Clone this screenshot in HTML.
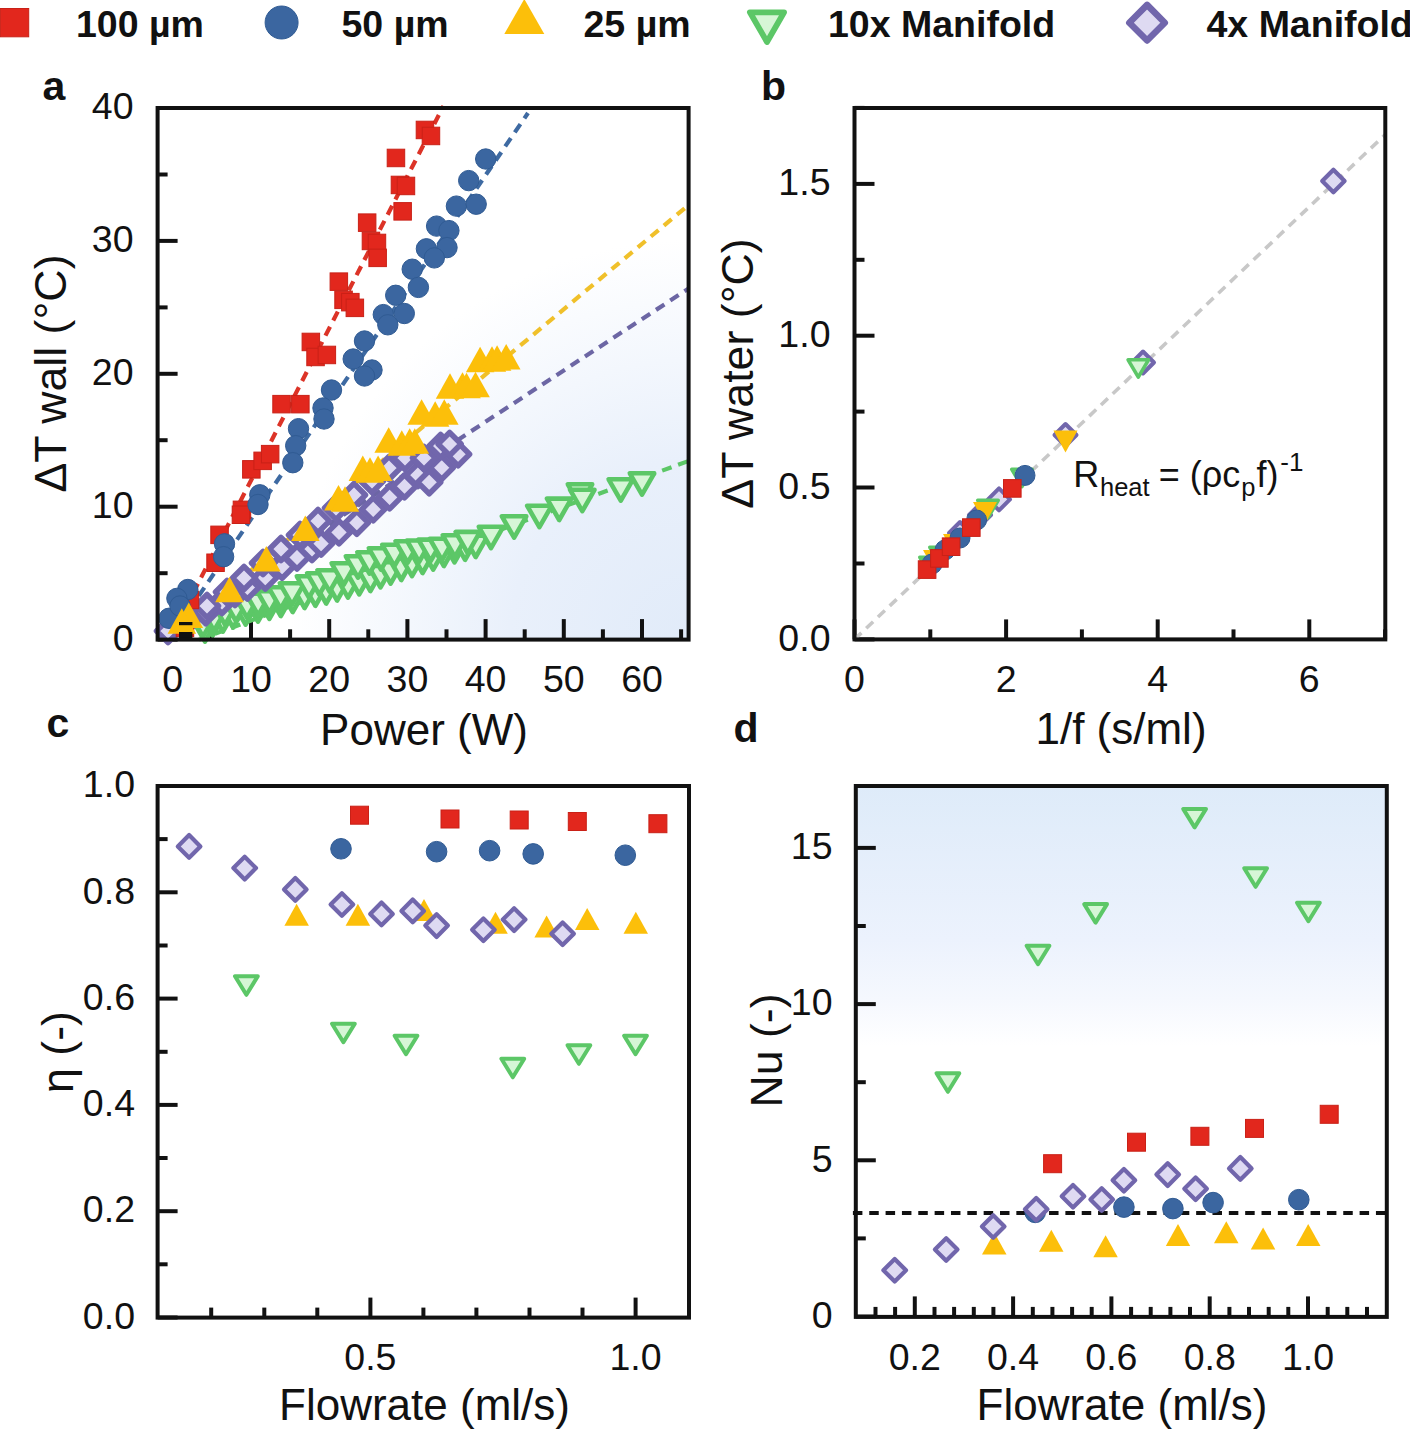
<!DOCTYPE html><html><head><meta charset="utf-8"><title>Figure</title>
<style>html,body{margin:0;padding:0;background:#fff;}svg{display:block;}text{font-family:"Liberation Sans", sans-serif;fill:#111111;}</style></head><body>
<svg width="1410" height="1430" viewBox="0 0 1410 1430">
<defs>
<radialGradient id="ga" gradientUnits="userSpaceOnUse" cx="690" cy="640" r="400"><stop offset="0" stop-color="rgb(225,235,249)"/><stop offset="0.45" stop-color="rgb(233,240,251)"/><stop offset="0.7" stop-color="rgb(243,247,253)"/><stop offset="1" stop-color="#ffffff"/></radialGradient>
<linearGradient id="gd" gradientUnits="userSpaceOnUse" x1="0" y1="786" x2="0" y2="1046"><stop offset="0" stop-color="rgb(222,235,249)"/><stop offset="0.59" stop-color="rgb(236,242,253)"/><stop offset="0.82" stop-color="rgb(245,248,254)"/><stop offset="1" stop-color="#ffffff"/></linearGradient>
</defs>
<rect width="1410" height="1430" fill="#fff"/>
<rect x="0.4" y="8.5" width="28.3" height="28.3" fill="#e2271d" stroke="#c92117" stroke-width="1"/>
<text x="76" y="37.2" font-size="37.5" text-anchor="start" font-weight="bold" >100 µm</text>
<circle cx="281.6" cy="22.5" r="16.5" fill="#3b66a0" stroke="#305b93" stroke-width="1"/>
<text x="341.5" y="37.2" font-size="37.5" text-anchor="start" font-weight="bold" >50 µm</text>
<path d="M524.3 -1L544.3 34L504.3 34Z" fill="#fcbf0a"/>
<text x="583.5" y="37.2" font-size="37.5" text-anchor="start" font-weight="bold" >25 µm</text>
<path d="M749.9 12.3L784.1 12.3L767 42Z" fill="#d6f6d6" stroke="#5cc767" stroke-width="5.8" stroke-linejoin="round"/>
<text x="828" y="37.2" font-size="37.5" text-anchor="start" font-weight="bold" >10x Manifold</text>
<path d="M1147.1 4.9L1164.8 22.7L1147.1 40.5L1129.3 22.7Z" fill="#dedaf2" stroke="#7166ac" stroke-width="6.5" stroke-linejoin="round"/>
<text x="1206.5" y="37.2" font-size="37.5" text-anchor="start" font-weight="bold" >4x Manifold</text>
<rect x="157.6" y="108" width="531" height="531.6" fill="url(#ga)"/>
<line x1="157.6" y1="639.6" x2="177.6" y2="639.6" stroke="#111111" stroke-width="4" />
<line x1="157.6" y1="573.2" x2="167.6" y2="573.2" stroke="#111111" stroke-width="4" />
<line x1="157.6" y1="506.7" x2="177.6" y2="506.7" stroke="#111111" stroke-width="4" />
<line x1="157.6" y1="440.2" x2="167.6" y2="440.2" stroke="#111111" stroke-width="4" />
<line x1="157.6" y1="373.8" x2="177.6" y2="373.8" stroke="#111111" stroke-width="4" />
<line x1="157.6" y1="307.4" x2="167.6" y2="307.4" stroke="#111111" stroke-width="4" />
<line x1="157.6" y1="240.9" x2="177.6" y2="240.9" stroke="#111111" stroke-width="4" />
<line x1="157.6" y1="174.5" x2="167.6" y2="174.5" stroke="#111111" stroke-width="4" />
<line x1="157.6" y1="108" x2="177.6" y2="108" stroke="#111111" stroke-width="4" />
<line x1="172.8" y1="639.6" x2="172.8" y2="619.1" stroke="#111111" stroke-width="4" />
<line x1="211.9" y1="639.6" x2="211.9" y2="629.3" stroke="#111111" stroke-width="4" />
<line x1="251" y1="639.6" x2="251" y2="619.1" stroke="#111111" stroke-width="4" />
<line x1="290.1" y1="639.6" x2="290.1" y2="629.3" stroke="#111111" stroke-width="4" />
<line x1="329.2" y1="639.6" x2="329.2" y2="619.1" stroke="#111111" stroke-width="4" />
<line x1="368.3" y1="639.6" x2="368.3" y2="629.3" stroke="#111111" stroke-width="4" />
<line x1="407.4" y1="639.6" x2="407.4" y2="619.1" stroke="#111111" stroke-width="4" />
<line x1="446.5" y1="639.6" x2="446.5" y2="629.3" stroke="#111111" stroke-width="4" />
<line x1="485.6" y1="639.6" x2="485.6" y2="619.1" stroke="#111111" stroke-width="4" />
<line x1="524.7" y1="639.6" x2="524.7" y2="629.3" stroke="#111111" stroke-width="4" />
<line x1="563.8" y1="639.6" x2="563.8" y2="619.1" stroke="#111111" stroke-width="4" />
<line x1="602.9" y1="639.6" x2="602.9" y2="629.3" stroke="#111111" stroke-width="4" />
<line x1="642" y1="639.6" x2="642" y2="619.1" stroke="#111111" stroke-width="4" />
<line x1="681.1" y1="639.6" x2="681.1" y2="629.3" stroke="#111111" stroke-width="4" />
<line x1="199" y1="639.6" x2="688.6" y2="461" stroke="#5cc767" stroke-width="4.2" stroke-dasharray="10 7"/>
<line x1="172.8" y1="627" x2="688.6" y2="288.5" stroke="#6c66a4" stroke-width="4.2" stroke-dasharray="10 7"/>
<line x1="168" y1="639.6" x2="688.6" y2="205" stroke="#f0c02a" stroke-width="4.2" stroke-dasharray="10 7"/>
<line x1="170" y1="638" x2="528" y2="113" stroke="#3e6aa2" stroke-width="4.2" stroke-dasharray="10 7"/>
<line x1="170" y1="638" x2="443.5" y2="106" stroke="#dc3327" stroke-width="4.2" stroke-dasharray="10 7"/>
<path d="M192.8 620.3L217.2 620.3L205 641.7Z" fill="#d6f6d6" stroke="#5cc767" stroke-width="4.6" stroke-linejoin="round"/>
<path d="M200.5 614.3L224.9 614.3L212.7 635.7Z" fill="#d6f6d6" stroke="#5cc767" stroke-width="4.6" stroke-linejoin="round"/>
<path d="M210.7 610.3L235.1 610.3L222.9 631.7Z" fill="#d6f6d6" stroke="#5cc767" stroke-width="4.6" stroke-linejoin="round"/>
<path d="M220.9 606.3L245.3 606.3L233.1 627.7Z" fill="#d6f6d6" stroke="#5cc767" stroke-width="4.6" stroke-linejoin="round"/>
<path d="M233.4 603.3L257.8 603.3L245.6 624.7Z" fill="#d6f6d6" stroke="#5cc767" stroke-width="4.6" stroke-linejoin="round"/>
<path d="M245.8 600.3L270.2 600.3L258 621.7Z" fill="#d6f6d6" stroke="#5cc767" stroke-width="4.6" stroke-linejoin="round"/>
<path d="M257.2 597.4L281.6 597.4L269.4 618.9Z" fill="#d6f6d6" stroke="#5cc767" stroke-width="4.6" stroke-linejoin="round"/>
<path d="M268.6 594.6L293 594.6L280.8 616Z" fill="#d6f6d6" stroke="#5cc767" stroke-width="4.6" stroke-linejoin="round"/>
<path d="M280.5 590.6L304.9 590.6L292.7 612Z" fill="#d6f6d6" stroke="#5cc767" stroke-width="4.6" stroke-linejoin="round"/>
<path d="M292.4 586.7L316.8 586.7L304.6 608.1Z" fill="#d6f6d6" stroke="#5cc767" stroke-width="4.6" stroke-linejoin="round"/>
<path d="M303.2 584.4L327.6 584.4L315.4 605.8Z" fill="#d6f6d6" stroke="#5cc767" stroke-width="4.6" stroke-linejoin="round"/>
<path d="M314 582.1L338.4 582.1L326.2 603.5Z" fill="#d6f6d6" stroke="#5cc767" stroke-width="4.6" stroke-linejoin="round"/>
<path d="M324.9 579.2L349.3 579.2L337.1 600.6Z" fill="#d6f6d6" stroke="#5cc767" stroke-width="4.6" stroke-linejoin="round"/>
<path d="M335.8 576.3L360.2 576.3L348 597.7Z" fill="#d6f6d6" stroke="#5cc767" stroke-width="4.6" stroke-linejoin="round"/>
<path d="M347 573L371.4 573L359.2 594.4Z" fill="#d6f6d6" stroke="#5cc767" stroke-width="4.6" stroke-linejoin="round"/>
<path d="M358.2 569.7L382.6 569.7L370.4 591.1Z" fill="#d6f6d6" stroke="#5cc767" stroke-width="4.6" stroke-linejoin="round"/>
<path d="M368.3 566L392.7 566L380.5 587.4Z" fill="#d6f6d6" stroke="#5cc767" stroke-width="4.6" stroke-linejoin="round"/>
<path d="M378.4 562.3L402.8 562.3L390.6 583.7Z" fill="#d6f6d6" stroke="#5cc767" stroke-width="4.6" stroke-linejoin="round"/>
<path d="M389.1 558.5L413.5 558.5L401.3 580Z" fill="#d6f6d6" stroke="#5cc767" stroke-width="4.6" stroke-linejoin="round"/>
<path d="M399.8 554.8L424.2 554.8L412 576.2Z" fill="#d6f6d6" stroke="#5cc767" stroke-width="4.6" stroke-linejoin="round"/>
<path d="M410.4 551.5L434.8 551.5L422.6 573Z" fill="#d6f6d6" stroke="#5cc767" stroke-width="4.6" stroke-linejoin="round"/>
<path d="M421 548.3L445.4 548.3L433.2 569.7Z" fill="#d6f6d6" stroke="#5cc767" stroke-width="4.6" stroke-linejoin="round"/>
<path d="M431.7 544.6L456.1 544.6L443.9 566.1Z" fill="#d6f6d6" stroke="#5cc767" stroke-width="4.6" stroke-linejoin="round"/>
<path d="M442.3 541L466.7 541L454.5 562.4Z" fill="#d6f6d6" stroke="#5cc767" stroke-width="4.6" stroke-linejoin="round"/>
<path d="M452.9 538.3L477.3 538.3L465.1 559.8Z" fill="#d6f6d6" stroke="#5cc767" stroke-width="4.6" stroke-linejoin="round"/>
<path d="M463.5 535.7L487.9 535.7L475.7 557.1Z" fill="#d6f6d6" stroke="#5cc767" stroke-width="4.6" stroke-linejoin="round"/>
<path d="M478.8 526.8L503.2 526.8L491 548.2Z" fill="#d6f6d6" stroke="#5cc767" stroke-width="4.6" stroke-linejoin="round"/>
<path d="M501.9 516.3L526.3 516.3L514.1 537.7Z" fill="#d6f6d6" stroke="#5cc767" stroke-width="4.6" stroke-linejoin="round"/>
<path d="M527.2 505.8L551.6 505.8L539.4 527.2Z" fill="#d6f6d6" stroke="#5cc767" stroke-width="4.6" stroke-linejoin="round"/>
<path d="M547 498.6L571.4 498.6L559.2 520Z" fill="#d6f6d6" stroke="#5cc767" stroke-width="4.6" stroke-linejoin="round"/>
<path d="M567.8 484.3L592.2 484.3L580 505.7Z" fill="#d6f6d6" stroke="#5cc767" stroke-width="4.6" stroke-linejoin="round"/>
<path d="M570.1 489.8L594.5 489.8L582.3 511.2Z" fill="#d6f6d6" stroke="#5cc767" stroke-width="4.6" stroke-linejoin="round"/>
<path d="M608.6 479.3L633 479.3L620.8 500.7Z" fill="#d6f6d6" stroke="#5cc767" stroke-width="4.6" stroke-linejoin="round"/>
<path d="M629.8 473.3L654.2 473.3L642 494.7Z" fill="#d6f6d6" stroke="#5cc767" stroke-width="4.6" stroke-linejoin="round"/>
<path d="M190.8 615.3L215.2 615.3L203 636.7Z" fill="#d6f6d6" stroke="#5cc767" stroke-width="4.6" stroke-linejoin="round"/>
<path d="M201.8 609.3L226.2 609.3L214 630.7Z" fill="#d6f6d6" stroke="#5cc767" stroke-width="4.6" stroke-linejoin="round"/>
<path d="M212.8 603.3L237.2 603.3L225 624.7Z" fill="#d6f6d6" stroke="#5cc767" stroke-width="4.6" stroke-linejoin="round"/>
<path d="M223.8 599.8L248.2 599.8L236 621.2Z" fill="#d6f6d6" stroke="#5cc767" stroke-width="4.6" stroke-linejoin="round"/>
<path d="M234.8 596.3L259.2 596.3L247 617.7Z" fill="#d6f6d6" stroke="#5cc767" stroke-width="4.6" stroke-linejoin="round"/>
<path d="M246 593.8L270.4 593.8L258.2 615.2Z" fill="#d6f6d6" stroke="#5cc767" stroke-width="4.6" stroke-linejoin="round"/>
<path d="M257.2 591.3L281.6 591.3L269.4 612.7Z" fill="#d6f6d6" stroke="#5cc767" stroke-width="4.6" stroke-linejoin="round"/>
<path d="M268.5 587.3L292.9 587.3L280.7 608.7Z" fill="#d6f6d6" stroke="#5cc767" stroke-width="4.6" stroke-linejoin="round"/>
<path d="M279.8 583.3L304.2 583.3L292 604.7Z" fill="#d6f6d6" stroke="#5cc767" stroke-width="4.6" stroke-linejoin="round"/>
<path d="M296.8 576.3L321.2 576.3L309 597.7Z" fill="#d6f6d6" stroke="#5cc767" stroke-width="4.6" stroke-linejoin="round"/>
<path d="M307.1 573.3L331.5 573.3L319.3 594.7Z" fill="#d6f6d6" stroke="#5cc767" stroke-width="4.6" stroke-linejoin="round"/>
<path d="M317.4 570.3L341.8 570.3L329.6 591.7Z" fill="#d6f6d6" stroke="#5cc767" stroke-width="4.6" stroke-linejoin="round"/>
<path d="M331.6 563.3L356 563.3L343.8 584.7Z" fill="#d6f6d6" stroke="#5cc767" stroke-width="4.6" stroke-linejoin="round"/>
<path d="M345.8 556.3L370.2 556.3L358 577.7Z" fill="#d6f6d6" stroke="#5cc767" stroke-width="4.6" stroke-linejoin="round"/>
<path d="M357.3 552.3L381.7 552.3L369.5 573.7Z" fill="#d6f6d6" stroke="#5cc767" stroke-width="4.6" stroke-linejoin="round"/>
<path d="M368.8 548.3L393.2 548.3L381 569.7Z" fill="#d6f6d6" stroke="#5cc767" stroke-width="4.6" stroke-linejoin="round"/>
<path d="M382.2 544.8L406.6 544.8L394.4 566.2Z" fill="#d6f6d6" stroke="#5cc767" stroke-width="4.6" stroke-linejoin="round"/>
<path d="M395.5 541.3L419.9 541.3L407.7 562.7Z" fill="#d6f6d6" stroke="#5cc767" stroke-width="4.6" stroke-linejoin="round"/>
<path d="M406.9 540.5L431.3 540.5L419.1 561.9Z" fill="#d6f6d6" stroke="#5cc767" stroke-width="4.6" stroke-linejoin="round"/>
<path d="M418.4 539.6L442.8 539.6L430.6 561Z" fill="#d6f6d6" stroke="#5cc767" stroke-width="4.6" stroke-linejoin="round"/>
<path d="M429.8 538.8L454.2 538.8L442 560.2Z" fill="#d6f6d6" stroke="#5cc767" stroke-width="4.6" stroke-linejoin="round"/>
<path d="M442.7 535.3L467.1 535.3L454.9 556.8Z" fill="#d6f6d6" stroke="#5cc767" stroke-width="4.6" stroke-linejoin="round"/>
<path d="M455.6 531.9L480 531.9L467.8 553.3Z" fill="#d6f6d6" stroke="#5cc767" stroke-width="4.6" stroke-linejoin="round"/>
<path d="M168 619.5L179.5 631L168 642.5L156.5 631Z" fill="#dedaf2" stroke="#7166ac" stroke-width="5.5" stroke-linejoin="round"/>
<path d="M186 610.5L197.5 622L186 633.5L174.5 622Z" fill="#dedaf2" stroke="#7166ac" stroke-width="5.5" stroke-linejoin="round"/>
<path d="M205.7 600.9L217.2 612.4L205.7 623.9L194.2 612.4Z" fill="#dedaf2" stroke="#7166ac" stroke-width="5.5" stroke-linejoin="round"/>
<path d="M222 590.5L233.5 602L222 613.5L210.5 602Z" fill="#dedaf2" stroke="#7166ac" stroke-width="5.5" stroke-linejoin="round"/>
<path d="M235 582.5L246.5 594L235 605.5L223.5 594Z" fill="#dedaf2" stroke="#7166ac" stroke-width="5.5" stroke-linejoin="round"/>
<path d="M247.4 576L258.9 587.5L247.4 599L235.9 587.5Z" fill="#dedaf2" stroke="#7166ac" stroke-width="5.5" stroke-linejoin="round"/>
<path d="M265.3 566.1L276.8 577.6L265.3 589.1L253.8 577.6Z" fill="#dedaf2" stroke="#7166ac" stroke-width="5.5" stroke-linejoin="round"/>
<path d="M282.1 555.2L293.6 566.7L282.1 578.2L270.6 566.7Z" fill="#dedaf2" stroke="#7166ac" stroke-width="5.5" stroke-linejoin="round"/>
<path d="M297 546L308.5 557.5L297 569L285.5 557.5Z" fill="#dedaf2" stroke="#7166ac" stroke-width="5.5" stroke-linejoin="round"/>
<path d="M312 537.5L323.5 549L312 560.5L300.5 549Z" fill="#dedaf2" stroke="#7166ac" stroke-width="5.5" stroke-linejoin="round"/>
<path d="M321.1 532.1L332.6 543.6L321.1 555.1L309.6 543.6Z" fill="#dedaf2" stroke="#7166ac" stroke-width="5.5" stroke-linejoin="round"/>
<path d="M339 520.9L350.5 532.4L339 543.9L327.5 532.4Z" fill="#dedaf2" stroke="#7166ac" stroke-width="5.5" stroke-linejoin="round"/>
<path d="M356.8 511.3L368.3 522.8L356.8 534.3L345.3 522.8Z" fill="#dedaf2" stroke="#7166ac" stroke-width="5.5" stroke-linejoin="round"/>
<path d="M373.2 497.9L384.7 509.4L373.2 520.9L361.7 509.4Z" fill="#dedaf2" stroke="#7166ac" stroke-width="5.5" stroke-linejoin="round"/>
<path d="M389.6 485.9L401.1 497.4L389.6 508.9L378.1 497.4Z" fill="#dedaf2" stroke="#7166ac" stroke-width="5.5" stroke-linejoin="round"/>
<path d="M404.5 474.8L416 486.3L404.5 497.8L393 486.3Z" fill="#dedaf2" stroke="#7166ac" stroke-width="5.5" stroke-linejoin="round"/>
<path d="M417.9 463.6L429.4 475.1L417.9 486.6L406.4 475.1Z" fill="#dedaf2" stroke="#7166ac" stroke-width="5.5" stroke-linejoin="round"/>
<path d="M429.2 470.8L440.7 482.3L429.2 493.8L417.7 482.3Z" fill="#dedaf2" stroke="#7166ac" stroke-width="5.5" stroke-linejoin="round"/>
<path d="M441.7 456.2L453.2 467.7L441.7 479.2L430.2 467.7Z" fill="#dedaf2" stroke="#7166ac" stroke-width="5.5" stroke-linejoin="round"/>
<path d="M458.1 442.8L469.6 454.3L458.1 465.8L446.6 454.3Z" fill="#dedaf2" stroke="#7166ac" stroke-width="5.5" stroke-linejoin="round"/>
<path d="M187 605.5L198.5 617L187 628.5L175.5 617Z" fill="#dedaf2" stroke="#7166ac" stroke-width="5.5" stroke-linejoin="round"/>
<path d="M207 594.5L218.5 606L207 617.5L195.5 606Z" fill="#dedaf2" stroke="#7166ac" stroke-width="5.5" stroke-linejoin="round"/>
<path d="M227 580.5L238.5 592L227 603.5L215.5 592Z" fill="#dedaf2" stroke="#7166ac" stroke-width="5.5" stroke-linejoin="round"/>
<path d="M244 566.5L255.5 578L244 589.5L232.5 578Z" fill="#dedaf2" stroke="#7166ac" stroke-width="5.5" stroke-linejoin="round"/>
<path d="M263 551.5L274.5 563L263 574.5L251.5 563Z" fill="#dedaf2" stroke="#7166ac" stroke-width="5.5" stroke-linejoin="round"/>
<path d="M281 537.5L292.5 549L281 560.5L269.5 549Z" fill="#dedaf2" stroke="#7166ac" stroke-width="5.5" stroke-linejoin="round"/>
<path d="M300 523.5L311.5 535L300 546.5L288.5 535Z" fill="#dedaf2" stroke="#7166ac" stroke-width="5.5" stroke-linejoin="round"/>
<path d="M318 509.5L329.5 521L318 532.5L306.5 521Z" fill="#dedaf2" stroke="#7166ac" stroke-width="5.5" stroke-linejoin="round"/>
<path d="M336 496.5L347.5 508L336 519.5L324.5 508Z" fill="#dedaf2" stroke="#7166ac" stroke-width="5.5" stroke-linejoin="round"/>
<path d="M354 483.5L365.5 495L354 506.5L342.5 495Z" fill="#dedaf2" stroke="#7166ac" stroke-width="5.5" stroke-linejoin="round"/>
<path d="M372 469.5L383.5 481L372 492.5L360.5 481Z" fill="#dedaf2" stroke="#7166ac" stroke-width="5.5" stroke-linejoin="round"/>
<path d="M389 456.5L400.5 468L389 479.5L377.5 468Z" fill="#dedaf2" stroke="#7166ac" stroke-width="5.5" stroke-linejoin="round"/>
<path d="M405 446.5L416.5 458L405 469.5L393.5 458Z" fill="#dedaf2" stroke="#7166ac" stroke-width="5.5" stroke-linejoin="round"/>
<path d="M424 446.5L435.5 458L424 469.5L412.5 458Z" fill="#dedaf2" stroke="#7166ac" stroke-width="5.5" stroke-linejoin="round"/>
<path d="M440.6 434.5L452.1 446L440.6 457.5L429.1 446Z" fill="#dedaf2" stroke="#7166ac" stroke-width="5.5" stroke-linejoin="round"/>
<path d="M449.6 432.5L461.1 444L449.6 455.5L438.1 444Z" fill="#dedaf2" stroke="#7166ac" stroke-width="5.5" stroke-linejoin="round"/>
<rect x="416.2" y="121.2" width="17.5" height="17.5" fill="#e2271d" stroke="#c92117" stroke-width="1"/>
<rect x="422.2" y="127.2" width="17.5" height="17.5" fill="#e2271d" stroke="#c92117" stroke-width="1"/>
<rect x="393.9" y="202.6" width="17.5" height="17.5" fill="#e2271d" stroke="#c92117" stroke-width="1"/>
<rect x="387.2" y="149.2" width="17.5" height="17.5" fill="#e2271d" stroke="#c92117" stroke-width="1"/>
<rect x="391.2" y="176.2" width="17.5" height="17.5" fill="#e2271d" stroke="#c92117" stroke-width="1"/>
<rect x="397.2" y="177.2" width="17.5" height="17.5" fill="#e2271d" stroke="#c92117" stroke-width="1"/>
<rect x="358.4" y="213.9" width="17.5" height="17.5" fill="#e2271d" stroke="#c92117" stroke-width="1"/>
<rect x="362.2" y="232.2" width="17.5" height="17.5" fill="#e2271d" stroke="#c92117" stroke-width="1"/>
<rect x="368.2" y="234.2" width="17.5" height="17.5" fill="#e2271d" stroke="#c92117" stroke-width="1"/>
<rect x="368.9" y="249.1" width="17.5" height="17.5" fill="#e2271d" stroke="#c92117" stroke-width="1"/>
<rect x="330.1" y="272.9" width="17.5" height="17.5" fill="#e2271d" stroke="#c92117" stroke-width="1"/>
<rect x="334.8" y="291.1" width="17.5" height="17.5" fill="#e2271d" stroke="#c92117" stroke-width="1"/>
<rect x="341.6" y="293.4" width="17.5" height="17.5" fill="#e2271d" stroke="#c92117" stroke-width="1"/>
<rect x="346.1" y="299.1" width="17.5" height="17.5" fill="#e2271d" stroke="#c92117" stroke-width="1"/>
<rect x="302.1" y="333.2" width="17.5" height="17.5" fill="#e2271d" stroke="#c92117" stroke-width="1"/>
<rect x="306.8" y="348.2" width="17.5" height="17.5" fill="#e2271d" stroke="#c92117" stroke-width="1"/>
<rect x="318.1" y="346.2" width="17.5" height="17.5" fill="#e2271d" stroke="#c92117" stroke-width="1"/>
<rect x="272.8" y="395.4" width="17.5" height="17.5" fill="#e2271d" stroke="#c92117" stroke-width="1"/>
<rect x="291.6" y="395.4" width="17.5" height="17.5" fill="#e2271d" stroke="#c92117" stroke-width="1"/>
<rect x="242.6" y="460.6" width="17.5" height="17.5" fill="#e2271d" stroke="#c92117" stroke-width="1"/>
<rect x="253.9" y="452.1" width="17.5" height="17.5" fill="#e2271d" stroke="#c92117" stroke-width="1"/>
<rect x="261.4" y="445.4" width="17.5" height="17.5" fill="#e2271d" stroke="#c92117" stroke-width="1"/>
<rect x="233.2" y="501.1" width="17.5" height="17.5" fill="#e2271d" stroke="#c92117" stroke-width="1"/>
<rect x="232.2" y="506" width="17.5" height="17.5" fill="#e2271d" stroke="#c92117" stroke-width="1"/>
<rect x="210.8" y="526.1" width="17.5" height="17.5" fill="#e2271d" stroke="#c92117" stroke-width="1"/>
<rect x="206.8" y="554" width="17.5" height="17.5" fill="#e2271d" stroke="#c92117" stroke-width="1"/>
<rect x="181.2" y="591.2" width="17.5" height="17.5" fill="#e2271d" stroke="#c92117" stroke-width="1"/>
<rect x="171.2" y="606.2" width="17.5" height="17.5" fill="#e2271d" stroke="#c92117" stroke-width="1"/>
<rect x="176.2" y="619.2" width="17.5" height="17.5" fill="#e2271d" stroke="#c92117" stroke-width="1"/>
<circle cx="485.7" cy="159" r="10.2" fill="#3b66a0" stroke="#305b93" stroke-width="1"/>
<circle cx="468.7" cy="180.6" r="10.2" fill="#3b66a0" stroke="#305b93" stroke-width="1"/>
<circle cx="456.4" cy="206.1" r="10.2" fill="#3b66a0" stroke="#305b93" stroke-width="1"/>
<circle cx="476.2" cy="204.2" r="10.2" fill="#3b66a0" stroke="#305b93" stroke-width="1"/>
<circle cx="436.6" cy="226.1" r="10.2" fill="#3b66a0" stroke="#305b93" stroke-width="1"/>
<circle cx="448.9" cy="230.6" r="10.2" fill="#3b66a0" stroke="#305b93" stroke-width="1"/>
<circle cx="447" cy="247.6" r="10.2" fill="#3b66a0" stroke="#305b93" stroke-width="1"/>
<circle cx="426.4" cy="248.8" r="10.2" fill="#3b66a0" stroke="#305b93" stroke-width="1"/>
<circle cx="434.3" cy="257.9" r="10.2" fill="#3b66a0" stroke="#305b93" stroke-width="1"/>
<circle cx="412.2" cy="269.2" r="10.2" fill="#3b66a0" stroke="#305b93" stroke-width="1"/>
<circle cx="418.4" cy="287.4" r="10.2" fill="#3b66a0" stroke="#305b93" stroke-width="1"/>
<circle cx="395.7" cy="295.3" r="10.2" fill="#3b66a0" stroke="#305b93" stroke-width="1"/>
<circle cx="404.3" cy="313.5" r="10.2" fill="#3b66a0" stroke="#305b93" stroke-width="1"/>
<circle cx="383.3" cy="314.6" r="10.2" fill="#3b66a0" stroke="#305b93" stroke-width="1"/>
<circle cx="387.8" cy="324.8" r="10.2" fill="#3b66a0" stroke="#305b93" stroke-width="1"/>
<circle cx="364.5" cy="341" r="10.2" fill="#3b66a0" stroke="#305b93" stroke-width="1"/>
<circle cx="353.2" cy="359" r="10.2" fill="#3b66a0" stroke="#305b93" stroke-width="1"/>
<circle cx="372" cy="370" r="10.2" fill="#3b66a0" stroke="#305b93" stroke-width="1"/>
<circle cx="364.5" cy="376" r="10.2" fill="#3b66a0" stroke="#305b93" stroke-width="1"/>
<circle cx="331.5" cy="390" r="10.2" fill="#3b66a0" stroke="#305b93" stroke-width="1"/>
<circle cx="323" cy="408" r="10.2" fill="#3b66a0" stroke="#305b93" stroke-width="1"/>
<circle cx="324" cy="419" r="10.2" fill="#3b66a0" stroke="#305b93" stroke-width="1"/>
<circle cx="298.5" cy="428.7" r="10.2" fill="#3b66a0" stroke="#305b93" stroke-width="1"/>
<circle cx="295.7" cy="445.7" r="10.2" fill="#3b66a0" stroke="#305b93" stroke-width="1"/>
<circle cx="292.8" cy="462.7" r="10.2" fill="#3b66a0" stroke="#305b93" stroke-width="1"/>
<circle cx="259.8" cy="494.8" r="10.2" fill="#3b66a0" stroke="#305b93" stroke-width="1"/>
<circle cx="258" cy="504.5" r="10.2" fill="#3b66a0" stroke="#305b93" stroke-width="1"/>
<circle cx="224.5" cy="543.8" r="10.2" fill="#3b66a0" stroke="#305b93" stroke-width="1"/>
<circle cx="223.6" cy="556.7" r="10.2" fill="#3b66a0" stroke="#305b93" stroke-width="1"/>
<circle cx="187.8" cy="589.5" r="10.2" fill="#3b66a0" stroke="#305b93" stroke-width="1"/>
<circle cx="176.9" cy="598.4" r="10.2" fill="#3b66a0" stroke="#305b93" stroke-width="1"/>
<circle cx="169" cy="618.3" r="10.2" fill="#3b66a0" stroke="#305b93" stroke-width="1"/>
<circle cx="180" cy="606" r="10.2" fill="#3b66a0" stroke="#305b93" stroke-width="1"/>
<path d="M480.1 346.8L494.4 372.2L465.9 372.2Z" fill="#fcbf0a"/>
<path d="M492 346.2L506.2 371.8L477.8 371.8Z" fill="#fcbf0a"/>
<path d="M497.1 345.2L511.4 370.8L482.9 370.8Z" fill="#fcbf0a"/>
<path d="M506.2 343.9L520.5 369.4L491.9 369.4Z" fill="#fcbf0a"/>
<path d="M450 373.2L464.2 398.8L435.8 398.8Z" fill="#fcbf0a"/>
<path d="M462.5 372.2L476.8 397.8L448.2 397.8Z" fill="#fcbf0a"/>
<path d="M466.5 372.8L480.8 398.2L452.2 398.2Z" fill="#fcbf0a"/>
<path d="M475.5 371.8L489.8 397.2L461.2 397.2Z" fill="#fcbf0a"/>
<path d="M421.6 399.2L435.9 424.8L407.4 424.8Z" fill="#fcbf0a"/>
<path d="M435.2 401.2L449.4 426.8L420.9 426.8Z" fill="#fcbf0a"/>
<path d="M444.3 399.2L458.6 424.8L430.1 424.8Z" fill="#fcbf0a"/>
<path d="M388.7 427.2L402.9 452.8L374.4 452.8Z" fill="#fcbf0a"/>
<path d="M401.8 430.2L416.1 455.8L387.6 455.8Z" fill="#fcbf0a"/>
<path d="M409.7 428.2L423.9 453.8L395.4 453.8Z" fill="#fcbf0a"/>
<path d="M414.8 428.2L429.1 453.8L400.6 453.8Z" fill="#fcbf0a"/>
<path d="M362.8 455.6L377.1 481.1L348.6 481.1Z" fill="#fcbf0a"/>
<path d="M370 457.2L384.2 482.8L355.8 482.8Z" fill="#fcbf0a"/>
<path d="M378.1 455.6L392.4 481.1L363.9 481.1Z" fill="#fcbf0a"/>
<path d="M338.5 484.9L352.8 510.4L324.2 510.4Z" fill="#fcbf0a"/>
<path d="M345 486.2L359.2 511.8L330.8 511.8Z" fill="#fcbf0a"/>
<path d="M305.3 515.5L319.6 541L291.1 541Z" fill="#fcbf0a"/>
<path d="M266.3 546L280.6 571.5L252.1 571.5Z" fill="#fcbf0a"/>
<path d="M229.5 576.8L243.8 602.2L215.2 602.2Z" fill="#fcbf0a"/>
<path d="M188.8 602.5L203.1 628L174.6 628Z" fill="#fcbf0a"/>
<path d="M181.8 608.2L196.1 633.8L167.6 633.8Z" fill="#fcbf0a"/>
<rect x="179" y="622" width="13.4" height="3.2" fill="#111"/>
<rect x="179" y="632" width="13.4" height="7" fill="#111"/>
<rect x="157.6" y="108" width="531" height="531.6" fill="none" stroke="#111111" stroke-width="4"/>
<text x="133.5" y="650.8" font-size="37.5" text-anchor="end" font-weight="normal" >0</text>
<text x="133.5" y="517.9" font-size="37.5" text-anchor="end" font-weight="normal" >10</text>
<text x="133.5" y="385" font-size="37.5" text-anchor="end" font-weight="normal" >20</text>
<text x="133.5" y="252.1" font-size="37.5" text-anchor="end" font-weight="normal" >30</text>
<text x="133.5" y="119.2" font-size="37.5" text-anchor="end" font-weight="normal" >40</text>
<text x="172.8" y="691.5" font-size="37.5" text-anchor="middle" font-weight="normal" >0</text>
<text x="251" y="691.5" font-size="37.5" text-anchor="middle" font-weight="normal" >10</text>
<text x="329.2" y="691.5" font-size="37.5" text-anchor="middle" font-weight="normal" >20</text>
<text x="407.4" y="691.5" font-size="37.5" text-anchor="middle" font-weight="normal" >30</text>
<text x="485.6" y="691.5" font-size="37.5" text-anchor="middle" font-weight="normal" >40</text>
<text x="563.8" y="691.5" font-size="37.5" text-anchor="middle" font-weight="normal" >50</text>
<text x="642" y="691.5" font-size="37.5" text-anchor="middle" font-weight="normal" >60</text>
<text x="424" y="745" font-size="44" text-anchor="middle" font-weight="normal" >Power (W)</text>
<text x="66" y="373.5" font-size="44.7" text-anchor="middle" font-weight="normal" transform="rotate(-90 66 373.5)">ΔT wall (°C)</text>
<text x="42.5" y="99.7" font-size="41" text-anchor="start" font-weight="bold" >a</text>
<line x1="854.5" y1="639.4" x2="874.5" y2="639.4" stroke="#111111" stroke-width="4" />
<line x1="854.5" y1="563.5" x2="864.5" y2="563.5" stroke="#111111" stroke-width="4" />
<line x1="854.5" y1="487.5" x2="874.5" y2="487.5" stroke="#111111" stroke-width="4" />
<line x1="854.5" y1="411.6" x2="864.5" y2="411.6" stroke="#111111" stroke-width="4" />
<line x1="854.5" y1="335.7" x2="874.5" y2="335.7" stroke="#111111" stroke-width="4" />
<line x1="854.5" y1="259.8" x2="864.5" y2="259.8" stroke="#111111" stroke-width="4" />
<line x1="854.5" y1="183.9" x2="874.5" y2="183.9" stroke="#111111" stroke-width="4" />
<line x1="854.5" y1="107.9" x2="864.5" y2="107.9" stroke="#111111" stroke-width="4" />
<line x1="854.5" y1="639.4" x2="854.5" y2="619.4" stroke="#111111" stroke-width="4" />
<line x1="930.3" y1="639.4" x2="930.3" y2="629.4" stroke="#111111" stroke-width="4" />
<line x1="1006.1" y1="639.4" x2="1006.1" y2="619.4" stroke="#111111" stroke-width="4" />
<line x1="1081.9" y1="639.4" x2="1081.9" y2="629.4" stroke="#111111" stroke-width="4" />
<line x1="1157.7" y1="639.4" x2="1157.7" y2="619.4" stroke="#111111" stroke-width="4" />
<line x1="1233.5" y1="639.4" x2="1233.5" y2="629.4" stroke="#111111" stroke-width="4" />
<line x1="1309.3" y1="639.4" x2="1309.3" y2="619.4" stroke="#111111" stroke-width="4" />
<line x1="1385.1" y1="639.4" x2="1385.1" y2="629.4" stroke="#111111" stroke-width="4" />
<line x1="854.5" y1="639.4" x2="1385.3" y2="134.5" stroke="#c8c8c8" stroke-width="3.6" stroke-dasharray="9.5 6.7"/>
<path d="M960 522L971 533L960 544L949 533Z" fill="#dedaf2" stroke="#7166ac" stroke-width="4" stroke-linejoin="round"/>
<path d="M980 504L991 515L980 526L969 515Z" fill="#dedaf2" stroke="#7166ac" stroke-width="4" stroke-linejoin="round"/>
<path d="M999 488.4L1010 499.4L999 510.4L988 499.4Z" fill="#dedaf2" stroke="#7166ac" stroke-width="4" stroke-linejoin="round"/>
<path d="M1065.5 424L1076.5 435L1065.5 446L1054.5 435Z" fill="#dedaf2" stroke="#7166ac" stroke-width="4" stroke-linejoin="round"/>
<path d="M1143 351.5L1154 362.5L1143 373.5L1132 362.5Z" fill="#dedaf2" stroke="#7166ac" stroke-width="4" stroke-linejoin="round"/>
<path d="M1333.4 169.8L1344.6 181L1333.4 192.2L1322.2 181Z" fill="#dedaf2" stroke="#7166ac" stroke-width="4.2" stroke-linejoin="round"/>
<path d="M919.8 557.3L940.2 557.3L930 574.7Z" fill="#d6f6d6" stroke="#5cc767" stroke-width="3.6" stroke-linejoin="round"/>
<path d="M929.8 547.3L950.2 547.3L940 564.7Z" fill="#d6f6d6" stroke="#5cc767" stroke-width="3.6" stroke-linejoin="round"/>
<path d="M977.8 500.3L998.2 500.3L988 517.7Z" fill="#d6f6d6" stroke="#5cc767" stroke-width="3.6" stroke-linejoin="round"/>
<path d="M1011.8 469.3L1032.2 469.3L1022 486.7Z" fill="#d6f6d6" stroke="#5cc767" stroke-width="3.6" stroke-linejoin="round"/>
<path d="M1128.1 359.8L1148.5 359.8L1138.3 377.2Z" fill="#d6f6d6" stroke="#5cc767" stroke-width="3.6" stroke-linejoin="round"/>
<path d="M923 550L947 550L935 572Z" fill="#fcbf0a"/>
<path d="M943 534L967 534L955 556Z" fill="#fcbf0a"/>
<path d="M973 502L997 502L985 524Z" fill="#fcbf0a"/>
<path d="M1053.5 430.5L1077.5 430.5L1065.5 452.5Z" fill="#fcbf0a"/>
<circle cx="932" cy="564" r="10" fill="#3b66a0" stroke="#305b93" stroke-width="1"/>
<circle cx="945" cy="550" r="10" fill="#3b66a0" stroke="#305b93" stroke-width="1"/>
<circle cx="960" cy="538" r="10" fill="#3b66a0" stroke="#305b93" stroke-width="1"/>
<circle cx="976.6" cy="520" r="10" fill="#3b66a0" stroke="#305b93" stroke-width="1"/>
<circle cx="1025" cy="475.4" r="10" fill="#3b66a0" stroke="#305b93" stroke-width="1"/>
<rect x="918.3" y="560.8" width="17.6" height="17.6" fill="#e2271d" stroke="#c92117" stroke-width="1"/>
<rect x="930.6" y="549.6" width="17.6" height="17.6" fill="#e2271d" stroke="#c92117" stroke-width="1"/>
<rect x="942.3" y="537.9" width="17.6" height="17.6" fill="#e2271d" stroke="#c92117" stroke-width="1"/>
<rect x="962.5" y="518.8" width="17.6" height="17.6" fill="#e2271d" stroke="#c92117" stroke-width="1"/>
<rect x="1003.5" y="479.6" width="17.6" height="17.6" fill="#e2271d" stroke="#c92117" stroke-width="1"/>
<rect x="854.5" y="108" width="530.8" height="531.4" fill="none" stroke="#111111" stroke-width="4"/>
<text x="830.5" y="650.6" font-size="37.5" text-anchor="end" font-weight="normal" >0.0</text>
<text x="830.5" y="498.7" font-size="37.5" text-anchor="end" font-weight="normal" >0.5</text>
<text x="830.5" y="346.9" font-size="37.5" text-anchor="end" font-weight="normal" >1.0</text>
<text x="830.5" y="195.1" font-size="37.5" text-anchor="end" font-weight="normal" >1.5</text>
<text x="854.5" y="691.5" font-size="37.5" text-anchor="middle" font-weight="normal" >0</text>
<text x="1006.1" y="691.5" font-size="37.5" text-anchor="middle" font-weight="normal" >2</text>
<text x="1157.7" y="691.5" font-size="37.5" text-anchor="middle" font-weight="normal" >4</text>
<text x="1309.3" y="691.5" font-size="37.5" text-anchor="middle" font-weight="normal" >6</text>
<text x="1121" y="744.3" font-size="44" text-anchor="middle" font-weight="normal" >1/f (s/ml)</text>
<text x="753" y="373.5" font-size="44.7" text-anchor="middle" font-weight="normal" transform="rotate(-90 753 373.5)">ΔT water (°C)</text>
<text x="761" y="99.8" font-size="41" text-anchor="start" font-weight="bold" >b</text>
<text y="486.5" font-size="36"><tspan x="1073.2">R</tspan><tspan x="1100" y="496.4" font-size="25.5">heat</tspan><tspan x="1158.8" y="486.5">= (ρc</tspan><tspan x="1241.3" y="496.4" font-size="25.5">p</tspan><tspan x="1256.6" y="486.5">f)</tspan><tspan x="1280.3" y="471" font-size="26">-1</tspan></text>
<line x1="157.6" y1="1317.5" x2="177.6" y2="1317.5" stroke="#111111" stroke-width="4" />
<line x1="157.6" y1="1264.3" x2="167.6" y2="1264.3" stroke="#111111" stroke-width="4" />
<line x1="157.6" y1="1211.2" x2="177.6" y2="1211.2" stroke="#111111" stroke-width="4" />
<line x1="157.6" y1="1158" x2="167.6" y2="1158" stroke="#111111" stroke-width="4" />
<line x1="157.6" y1="1104.9" x2="177.6" y2="1104.9" stroke="#111111" stroke-width="4" />
<line x1="157.6" y1="1051.8" x2="167.6" y2="1051.8" stroke="#111111" stroke-width="4" />
<line x1="157.6" y1="998.6" x2="177.6" y2="998.6" stroke="#111111" stroke-width="4" />
<line x1="157.6" y1="945.5" x2="167.6" y2="945.5" stroke="#111111" stroke-width="4" />
<line x1="157.6" y1="892.3" x2="177.6" y2="892.3" stroke="#111111" stroke-width="4" />
<line x1="157.6" y1="839.1" x2="167.6" y2="839.1" stroke="#111111" stroke-width="4" />
<line x1="157.6" y1="786" x2="177.6" y2="786" stroke="#111111" stroke-width="4" />
<line x1="211.2" y1="1317.6" x2="211.2" y2="1307.6" stroke="#111111" stroke-width="4" />
<line x1="264.3" y1="1317.6" x2="264.3" y2="1307.6" stroke="#111111" stroke-width="4" />
<line x1="317.3" y1="1317.6" x2="317.3" y2="1307.6" stroke="#111111" stroke-width="4" />
<line x1="370.4" y1="1317.6" x2="370.4" y2="1297.6" stroke="#111111" stroke-width="4" />
<line x1="423.4" y1="1317.6" x2="423.4" y2="1307.6" stroke="#111111" stroke-width="4" />
<line x1="476.4" y1="1317.6" x2="476.4" y2="1307.6" stroke="#111111" stroke-width="4" />
<line x1="529.5" y1="1317.6" x2="529.5" y2="1307.6" stroke="#111111" stroke-width="4" />
<line x1="582.5" y1="1317.6" x2="582.5" y2="1307.6" stroke="#111111" stroke-width="4" />
<line x1="635.6" y1="1317.6" x2="635.6" y2="1297.6" stroke="#111111" stroke-width="4" />
<path d="M296.6 903.8L308.9 925.8L284.4 925.8Z" fill="#fcbf0a"/>
<path d="M357.9 903.8L370.1 925.8L345.6 925.8Z" fill="#fcbf0a"/>
<path d="M424 899L436.2 921L411.8 921Z" fill="#fcbf0a"/>
<path d="M495.5 911.8L507.8 933.8L483.2 933.8Z" fill="#fcbf0a"/>
<path d="M546.6 915.6L558.9 937.6L534.4 937.6Z" fill="#fcbf0a"/>
<path d="M587.2 908L599.5 930L575 930Z" fill="#fcbf0a"/>
<path d="M635.8 911.8L648 933.8L623.5 933.8Z" fill="#fcbf0a"/>
<rect x="350.5" y="806.2" width="18" height="18" fill="#e2271d" stroke="#c92117" stroke-width="1"/>
<rect x="441" y="810" width="18" height="18" fill="#e2271d" stroke="#c92117" stroke-width="1"/>
<rect x="510.2" y="811" width="18" height="18" fill="#e2271d" stroke="#c92117" stroke-width="1"/>
<rect x="568.3" y="812.5" width="18" height="18" fill="#e2271d" stroke="#c92117" stroke-width="1"/>
<rect x="648.9" y="814.7" width="18" height="18" fill="#e2271d" stroke="#c92117" stroke-width="1"/>
<circle cx="341" cy="848.8" r="10.3" fill="#3b66a0" stroke="#305b93" stroke-width="1"/>
<circle cx="436.6" cy="851.7" r="10.3" fill="#3b66a0" stroke="#305b93" stroke-width="1"/>
<circle cx="489.6" cy="850.7" r="10.3" fill="#3b66a0" stroke="#305b93" stroke-width="1"/>
<circle cx="533.2" cy="853.9" r="10.3" fill="#3b66a0" stroke="#305b93" stroke-width="1"/>
<circle cx="625.3" cy="855.2" r="10.3" fill="#3b66a0" stroke="#305b93" stroke-width="1"/>
<path d="M235 976.2L257.8 976.2L246.4 994.8Z" fill="#d6f6d6" stroke="#5cc767" stroke-width="4" stroke-linejoin="round"/>
<path d="M332 1023.8L354.8 1023.8L343.4 1042.2Z" fill="#d6f6d6" stroke="#5cc767" stroke-width="4" stroke-linejoin="round"/>
<path d="M394.6 1035.8L417.4 1035.8L406 1054.2Z" fill="#d6f6d6" stroke="#5cc767" stroke-width="4" stroke-linejoin="round"/>
<path d="M501.4 1058.8L524.2 1058.8L512.8 1077.3Z" fill="#d6f6d6" stroke="#5cc767" stroke-width="4" stroke-linejoin="round"/>
<path d="M567.5 1045.2L590.3 1045.2L578.9 1063.8Z" fill="#d6f6d6" stroke="#5cc767" stroke-width="4" stroke-linejoin="round"/>
<path d="M624.1 1035.8L646.9 1035.8L635.5 1054.2Z" fill="#d6f6d6" stroke="#5cc767" stroke-width="4" stroke-linejoin="round"/>
<path d="M189.1 835.1L200.4 846.4L189.1 857.7L177.8 846.4Z" fill="#dedaf2" stroke="#7166ac" stroke-width="4.2" stroke-linejoin="round"/>
<path d="M244.7 856.8L256 868.1L244.7 879.4L233.4 868.1Z" fill="#dedaf2" stroke="#7166ac" stroke-width="4.2" stroke-linejoin="round"/>
<path d="M295.3 878.1L306.6 889.4L295.3 900.7L284 889.4Z" fill="#dedaf2" stroke="#7166ac" stroke-width="4.2" stroke-linejoin="round"/>
<path d="M341.9 893.2L353.2 904.5L341.9 915.8L330.6 904.5Z" fill="#dedaf2" stroke="#7166ac" stroke-width="4.2" stroke-linejoin="round"/>
<path d="M381.5 902.6L392.8 913.9L381.5 925.2L370.2 913.9Z" fill="#dedaf2" stroke="#7166ac" stroke-width="4.2" stroke-linejoin="round"/>
<path d="M412.7 899.6L424 910.9L412.7 922.2L401.4 910.9Z" fill="#dedaf2" stroke="#7166ac" stroke-width="4.2" stroke-linejoin="round"/>
<path d="M436.6 914.3L447.9 925.6L436.6 936.9L425.3 925.6Z" fill="#dedaf2" stroke="#7166ac" stroke-width="4.2" stroke-linejoin="round"/>
<path d="M483.4 918.5L494.7 929.8L483.4 941.1L472.1 929.8Z" fill="#dedaf2" stroke="#7166ac" stroke-width="4.2" stroke-linejoin="round"/>
<path d="M514.1 908.3L525.4 919.6L514.1 930.9L502.8 919.6Z" fill="#dedaf2" stroke="#7166ac" stroke-width="4.2" stroke-linejoin="round"/>
<path d="M562.6 922.4L573.9 933.7L562.6 945L551.3 933.7Z" fill="#dedaf2" stroke="#7166ac" stroke-width="4.2" stroke-linejoin="round"/>
<rect x="157.6" y="786" width="531.4" height="531.6" fill="none" stroke="#111111" stroke-width="4"/>
<text x="135" y="1328.7" font-size="37.5" text-anchor="end" font-weight="normal" >0.0</text>
<text x="135" y="1222.4" font-size="37.5" text-anchor="end" font-weight="normal" >0.2</text>
<text x="135" y="1116.1" font-size="37.5" text-anchor="end" font-weight="normal" >0.4</text>
<text x="135" y="1009.8" font-size="37.5" text-anchor="end" font-weight="normal" >0.6</text>
<text x="135" y="903.5" font-size="37.5" text-anchor="end" font-weight="normal" >0.8</text>
<text x="135" y="797.2" font-size="37.5" text-anchor="end" font-weight="normal" >1.0</text>
<text x="370.4" y="1370" font-size="37.5" text-anchor="middle" font-weight="normal" >0.5</text>
<text x="635.6" y="1370" font-size="37.5" text-anchor="middle" font-weight="normal" >1.0</text>
<text x="424.5" y="1420.2" font-size="44" text-anchor="middle" font-weight="normal" >Flowrate (ml/s)</text>
<text x="73" y="1052" font-size="44.7" text-anchor="middle" font-weight="normal" transform="rotate(-90 73 1052)">η (-)</text>
<text x="46.5" y="737.4" font-size="41" text-anchor="start" font-weight="bold" >c</text>
<rect x="855.8" y="786" width="531" height="261" fill="url(#gd)"/>
<line x1="855.8" y1="1316.5" x2="875.8" y2="1316.5" stroke="#111111" stroke-width="4" />
<line x1="855.8" y1="1238.4" x2="865.8" y2="1238.4" stroke="#111111" stroke-width="4" />
<line x1="855.8" y1="1160.3" x2="875.8" y2="1160.3" stroke="#111111" stroke-width="4" />
<line x1="855.8" y1="1082.2" x2="865.8" y2="1082.2" stroke="#111111" stroke-width="4" />
<line x1="855.8" y1="1004.1" x2="875.8" y2="1004.1" stroke="#111111" stroke-width="4" />
<line x1="855.8" y1="926" x2="865.8" y2="926" stroke="#111111" stroke-width="4" />
<line x1="855.8" y1="847.9" x2="875.8" y2="847.9" stroke="#111111" stroke-width="4" />
<line x1="875.5" y1="1316.9" x2="875.5" y2="1306.9" stroke="#111111" stroke-width="4" />
<line x1="895.1" y1="1316.9" x2="895.1" y2="1306.9" stroke="#111111" stroke-width="4" />
<line x1="914.8" y1="1316.9" x2="914.8" y2="1296.4" stroke="#111111" stroke-width="4" />
<line x1="934.5" y1="1316.9" x2="934.5" y2="1306.9" stroke="#111111" stroke-width="4" />
<line x1="954.1" y1="1316.9" x2="954.1" y2="1306.9" stroke="#111111" stroke-width="4" />
<line x1="973.8" y1="1316.9" x2="973.8" y2="1306.9" stroke="#111111" stroke-width="4" />
<line x1="993.4" y1="1316.9" x2="993.4" y2="1306.9" stroke="#111111" stroke-width="4" />
<line x1="1013.1" y1="1316.9" x2="1013.1" y2="1296.4" stroke="#111111" stroke-width="4" />
<line x1="1032.8" y1="1316.9" x2="1032.8" y2="1306.9" stroke="#111111" stroke-width="4" />
<line x1="1052.4" y1="1316.9" x2="1052.4" y2="1306.9" stroke="#111111" stroke-width="4" />
<line x1="1072.1" y1="1316.9" x2="1072.1" y2="1306.9" stroke="#111111" stroke-width="4" />
<line x1="1091.7" y1="1316.9" x2="1091.7" y2="1306.9" stroke="#111111" stroke-width="4" />
<line x1="1111.4" y1="1316.9" x2="1111.4" y2="1296.4" stroke="#111111" stroke-width="4" />
<line x1="1131.1" y1="1316.9" x2="1131.1" y2="1306.9" stroke="#111111" stroke-width="4" />
<line x1="1150.7" y1="1316.9" x2="1150.7" y2="1306.9" stroke="#111111" stroke-width="4" />
<line x1="1170.4" y1="1316.9" x2="1170.4" y2="1306.9" stroke="#111111" stroke-width="4" />
<line x1="1190" y1="1316.9" x2="1190" y2="1306.9" stroke="#111111" stroke-width="4" />
<line x1="1209.7" y1="1316.9" x2="1209.7" y2="1296.4" stroke="#111111" stroke-width="4" />
<line x1="1229.4" y1="1316.9" x2="1229.4" y2="1306.9" stroke="#111111" stroke-width="4" />
<line x1="1249" y1="1316.9" x2="1249" y2="1306.9" stroke="#111111" stroke-width="4" />
<line x1="1268.7" y1="1316.9" x2="1268.7" y2="1306.9" stroke="#111111" stroke-width="4" />
<line x1="1288.3" y1="1316.9" x2="1288.3" y2="1306.9" stroke="#111111" stroke-width="4" />
<line x1="1308" y1="1316.9" x2="1308" y2="1296.4" stroke="#111111" stroke-width="4" />
<line x1="1327.7" y1="1316.9" x2="1327.7" y2="1306.9" stroke="#111111" stroke-width="4" />
<line x1="1347.3" y1="1316.9" x2="1347.3" y2="1306.9" stroke="#111111" stroke-width="4" />
<line x1="1367" y1="1316.9" x2="1367" y2="1306.9" stroke="#111111" stroke-width="4" />
<line x1="852.9" y1="1213" x2="1386.8" y2="1213" stroke="#111111" stroke-width="3.9" stroke-dasharray="9.5 6.845"/>
<path d="M994.3 1232.5L1006.5 1254.5L982 1254.5Z" fill="#fcbf0a"/>
<path d="M1051.3 1229.7L1063.5 1251.7L1039 1251.7Z" fill="#fcbf0a"/>
<path d="M1105.6 1235.3L1117.8 1257.3L1093.3 1257.3Z" fill="#fcbf0a"/>
<path d="M1178 1224L1190.2 1246L1165.8 1246Z" fill="#fcbf0a"/>
<path d="M1226.3 1221.2L1238.5 1243.2L1214 1243.2Z" fill="#fcbf0a"/>
<path d="M1263.1 1227.4L1275.3 1249.4L1250.8 1249.4Z" fill="#fcbf0a"/>
<path d="M1308.2 1224L1320.5 1246L1296 1246Z" fill="#fcbf0a"/>
<circle cx="1035.2" cy="1212.4" r="10.3" fill="#3b66a0" stroke="#305b93" stroke-width="1"/>
<circle cx="1123.9" cy="1207.1" r="10.3" fill="#3b66a0" stroke="#305b93" stroke-width="1"/>
<circle cx="1172.9" cy="1208.6" r="10.3" fill="#3b66a0" stroke="#305b93" stroke-width="1"/>
<circle cx="1213.1" cy="1202.6" r="10.3" fill="#3b66a0" stroke="#305b93" stroke-width="1"/>
<circle cx="1298.8" cy="1199.7" r="10.3" fill="#3b66a0" stroke="#305b93" stroke-width="1"/>
<rect x="1043.6" y="1154.7" width="18" height="18" fill="#e2271d" stroke="#c92117" stroke-width="1"/>
<rect x="1127.5" y="1133.2" width="18" height="18" fill="#e2271d" stroke="#c92117" stroke-width="1"/>
<rect x="1190.9" y="1127.3" width="18" height="18" fill="#e2271d" stroke="#c92117" stroke-width="1"/>
<rect x="1245.5" y="1119.4" width="18" height="18" fill="#e2271d" stroke="#c92117" stroke-width="1"/>
<rect x="1320.2" y="1105.3" width="18" height="18" fill="#e2271d" stroke="#c92117" stroke-width="1"/>
<path d="M936.5 1073.2L959.3 1073.2L947.9 1091.8Z" fill="#d6f6d6" stroke="#5cc767" stroke-width="4" stroke-linejoin="round"/>
<path d="M1026.6 945.8L1049.4 945.8L1038 964.2Z" fill="#d6f6d6" stroke="#5cc767" stroke-width="4" stroke-linejoin="round"/>
<path d="M1084.2 904.1L1107 904.1L1095.6 922.6Z" fill="#d6f6d6" stroke="#5cc767" stroke-width="4" stroke-linejoin="round"/>
<path d="M1183.2 808.9L1206 808.9L1194.6 827.4Z" fill="#d6f6d6" stroke="#5cc767" stroke-width="4" stroke-linejoin="round"/>
<path d="M1244.2 868.2L1267 868.2L1255.6 886.8Z" fill="#d6f6d6" stroke="#5cc767" stroke-width="4" stroke-linejoin="round"/>
<path d="M1297 902.8L1319.8 902.8L1308.4 921.2Z" fill="#d6f6d6" stroke="#5cc767" stroke-width="4" stroke-linejoin="round"/>
<path d="M894.7 1259L906 1270.3L894.7 1281.6L883.4 1270.3Z" fill="#dedaf2" stroke="#7166ac" stroke-width="4.2" stroke-linejoin="round"/>
<path d="M946.2 1238.2L957.5 1249.5L946.2 1260.8L934.9 1249.5Z" fill="#dedaf2" stroke="#7166ac" stroke-width="4.2" stroke-linejoin="round"/>
<path d="M993.2 1215.2L1004.5 1226.5L993.2 1237.8L981.9 1226.5Z" fill="#dedaf2" stroke="#7166ac" stroke-width="4.2" stroke-linejoin="round"/>
<path d="M1036.2 1197.9L1047.5 1209.2L1036.2 1220.5L1024.9 1209.2Z" fill="#dedaf2" stroke="#7166ac" stroke-width="4.2" stroke-linejoin="round"/>
<path d="M1073 1185L1084.3 1196.3L1073 1207.6L1061.7 1196.3Z" fill="#dedaf2" stroke="#7166ac" stroke-width="4.2" stroke-linejoin="round"/>
<path d="M1101.7 1188.2L1113 1199.5L1101.7 1210.8L1090.4 1199.5Z" fill="#dedaf2" stroke="#7166ac" stroke-width="4.2" stroke-linejoin="round"/>
<path d="M1123.9 1169L1135.2 1180.3L1123.9 1191.6L1112.6 1180.3Z" fill="#dedaf2" stroke="#7166ac" stroke-width="4.2" stroke-linejoin="round"/>
<path d="M1167.7 1163.3L1179 1174.6L1167.7 1185.9L1156.4 1174.6Z" fill="#dedaf2" stroke="#7166ac" stroke-width="4.2" stroke-linejoin="round"/>
<path d="M1195.6 1177.5L1206.9 1188.8L1195.6 1200.1L1184.3 1188.8Z" fill="#dedaf2" stroke="#7166ac" stroke-width="4.2" stroke-linejoin="round"/>
<path d="M1240.3 1157.1L1251.6 1168.4L1240.3 1179.7L1229 1168.4Z" fill="#dedaf2" stroke="#7166ac" stroke-width="4.2" stroke-linejoin="round"/>
<rect x="855.8" y="786" width="531" height="530.9" fill="none" stroke="#111111" stroke-width="4"/>
<text x="832.5" y="1327.7" font-size="37.5" text-anchor="end" font-weight="normal" >0</text>
<text x="832.5" y="1171.5" font-size="37.5" text-anchor="end" font-weight="normal" >5</text>
<text x="832.5" y="1015.3" font-size="37.5" text-anchor="end" font-weight="normal" >10</text>
<text x="832.5" y="859.1" font-size="37.5" text-anchor="end" font-weight="normal" >15</text>
<text x="914.8" y="1370" font-size="37.5" text-anchor="middle" font-weight="normal" >0.2</text>
<text x="1013.1" y="1370" font-size="37.5" text-anchor="middle" font-weight="normal" >0.4</text>
<text x="1111.4" y="1370" font-size="37.5" text-anchor="middle" font-weight="normal" >0.6</text>
<text x="1209.7" y="1370" font-size="37.5" text-anchor="middle" font-weight="normal" >0.8</text>
<text x="1308" y="1370" font-size="37.5" text-anchor="middle" font-weight="normal" >1.0</text>
<text x="1122" y="1420.2" font-size="44" text-anchor="middle" font-weight="normal" >Flowrate (ml/s)</text>
<text x="781.6" y="1050.5" font-size="44.7" text-anchor="middle" font-weight="normal" transform="rotate(-90 781.6 1050.5)">Nu (-)</text>
<text x="733.5" y="741.5" font-size="41" text-anchor="start" font-weight="bold" >d</text>
</svg></body></html>
